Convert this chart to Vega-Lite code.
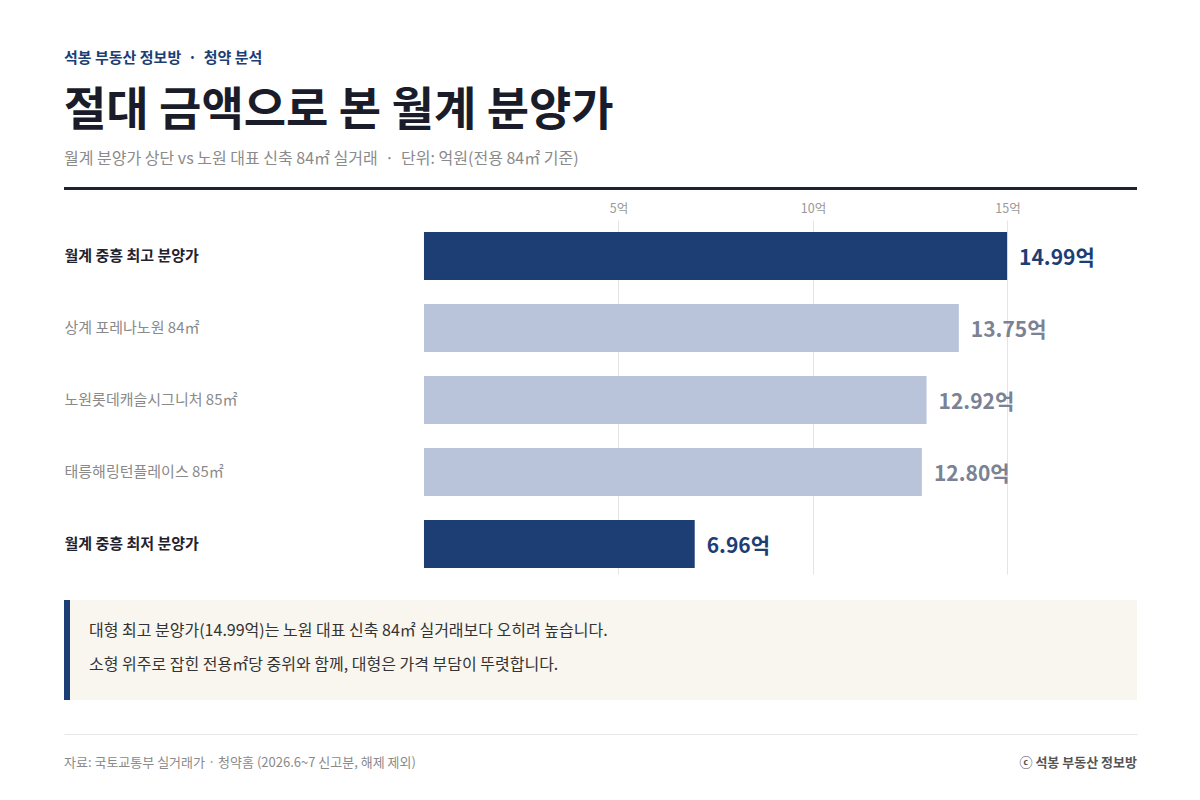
{
  "$schema": "https://vega.github.io/schema/vega-lite/v6.json",
  "background": "#ffffff",
  "padding": {"left": 64, "right": 63, "top": 51, "bottom": 2},
  "config": {
    "font": "Noto Sans CJK KR",
    "view": {"stroke": null},
    "concat": {"spacing": 0}
  },
  "title": {
    "text": "석봉 부동산 정보방\u00a0\u00a0·\u00a0\u00a0청약 분석",
    "anchor": "start",
    "fontSize": 15,
    "fontWeight": "bold",
    "color": "#1d3e75",
    "offset": 22
  },
  "datasets": {
    "prices": [
      {"name": "월계 중흥 최고 분양가", "value": 14.99, "kind": "highlight"},
      {"name": "상계 포레나노원 84㎡", "value": 13.75, "kind": "compare"},
      {"name": "노원롯데캐슬시그니처 85㎡", "value": 12.92, "kind": "compare"},
      {"name": "태릉해링턴플레이스 85㎡", "value": 12.80, "kind": "compare"},
      {"name": "월계 중흥 최저 분양가", "value": 6.96, "kind": "highlight"}
    ],
    "notes": [
      {"line": 1, "text": "대형 최고 분양가(14.99억)는 노원 대표 신축 84㎡ 실거래보다 오히려 높습니다."},
      {"line": 2, "text": "소형 위주로 잡힌 전용㎡당 중위와 함께, 대형은 가격 부담이 뚜렷합니다."}
    ],
    "footer": [
      {"side": "left", "text": "자료: 국토교통부 실거래가 · 청약홈 (2026.6~7 신고분, 해제 제외)"},
      {"side": "right", "text": "ⓒ 석봉 부동산 정보방"}
    ]
  },
  "spacing": 34,
  "vconcat": [
    {
      "spacing": 26,
      "vconcat": [
        {
          "spacing": 12,
          "vconcat": [
            {
              "title": {
                "text": "절대 금액으로 본 월계 분양가",
                "subtitle": "월계 분양가 상단 vs 노원 대표 신축 84㎡ 실거래\u00a0\u00a0·\u00a0\u00a0단위: 억원(전용 84㎡ 기준)",
                "anchor": "start",
                "frame": "group",
                "fontSize": 46,
                "fontWeight": "bold",
                "color": "#1a1d29",
                "subtitleFontSize": 16,
                "subtitleColor": "#8a8a8a",
                "subtitlePadding": 16,
                "offset": 19
              },
              "width": 1073,
              "height": 3,
              "view": {"fill": "#1f2230", "stroke": null},
              "data": {"values": []},
              "mark": "text"
            },
            {
              "width": 1073,
              "height": 354,
              "data": {"name": "prices"},
              "encoding": {
                "y": {
                  "field": "name",
                  "type": "nominal",
                  "sort": null,
                  "scale": {"paddingInner": 0.3333, "paddingOuter": 0.125, "align": 0.6667},
                  "axis": {
                    "title": null,
                    "domain": false,
                    "ticks": false,
                    "tickSize": 0,
                    "labelAlign": "left",
                    "labelPadding": 0,
                    "labelFontSize": 15,
                    "labelLimit": 340,
                    "labelFontWeight": {"condition": {"test": "indexof(datum.value, '월계') === 0", "value": "bold"}, "value": "normal"},
                    "labelColor": {"condition": {"test": "indexof(datum.value, '월계') === 0", "value": "#1f2230"}, "value": "#8a8a8a"}
                  }
                },
                "x": {
                  "field": "value",
                  "type": "quantitative",
                  "scale": {"domain": [-9.254, 18.33], "nice": false},
                  "axis": {
                    "orient": "top",
                    "values": [5, 10, 15],
                    "labelExpr": "datum.value + '억'",
                    "title": null,
                    "domain": false,
                    "ticks": false,
                    "labelFontSize": 12.5,
                    "labelColor": "#9a9a9a",
                    "labelPadding": 5,
                    "grid": true,
                    "gridColor": "#e4e4e4"
                  }
                }
              },
              "layer": [
                {
                  "mark": {"type": "bar"},
                  "encoding": {
                    "color": {
                      "field": "kind",
                      "type": "nominal",
                      "scale": {"domain": ["highlight", "compare"], "range": ["#1d3e75", "#b9c4db"]},
                      "legend": null
                    }
                  }
                },
                {
                  "mark": {
                    "type": "text",
                    "align": "left",
                    "baseline": "middle",
                    "dx": 12,
                    "dy": 3,
                    "fontSize": 21,
                    "fontWeight": "bold",
                    "text": {"expr": "format(datum.value, '.2f') + '억'"}
                  },
                  "encoding": {
                    "color": {"condition": {"test": "datum.kind === 'highlight'", "value": "#1d3e75"}, "value": "#7b8294"}
                  }
                }
              ]
            }
          ]
        },
        {
          "spacing": 0,
          "hconcat": [
            {
              "width": 6,
              "height": 100,
              "view": {"fill": "#1d3e75", "stroke": null},
              "data": {"values": []},
              "mark": "text"
            },
            {
              "width": 1067,
              "height": 100,
              "view": {"fill": "#f8f6ef", "stroke": null},
              "data": {"name": "notes"},
              "mark": {"type": "text", "align": "left", "baseline": "middle", "fontSize": 16, "color": "#333333"},
              "encoding": {
                "x": {"value": 19},
                "y": {
                  "field": "line",
                  "type": "ordinal",
                  "axis": null,
                  "scale": {"type": "point", "padding": 1.0625, "align": 0.47}
                },
                "text": {"field": "text"}
              }
            }
          ]
        }
      ]
    },
    {
      "width": 1073,
      "height": 58,
      "data": {"name": "footer"},
      "encoding": {
        "x": {
          "field": "side",
          "type": "nominal",
          "scale": {"type": "point", "domain": ["left", "right"], "padding": 0},
          "axis": {"orient": "top", "title": null, "labels": false, "ticks": false, "domain": true, "domainColor": "#e6e6e6", "grid": false}
        },
        "text": {"field": "text"}
      },
      "layer": [
        {
          "transform": [{"filter": "datum.side === 'left'"}],
          "mark": {"type": "text", "align": "left", "fontSize": 13, "color": "#8a8a8a"}
        },
        {
          "transform": [{"filter": "datum.side === 'right'"}],
          "mark": {"type": "text", "align": "right", "fontSize": 13, "fontWeight": "bold", "color": "#555555"}
        }
      ]
    }
  ]
}
